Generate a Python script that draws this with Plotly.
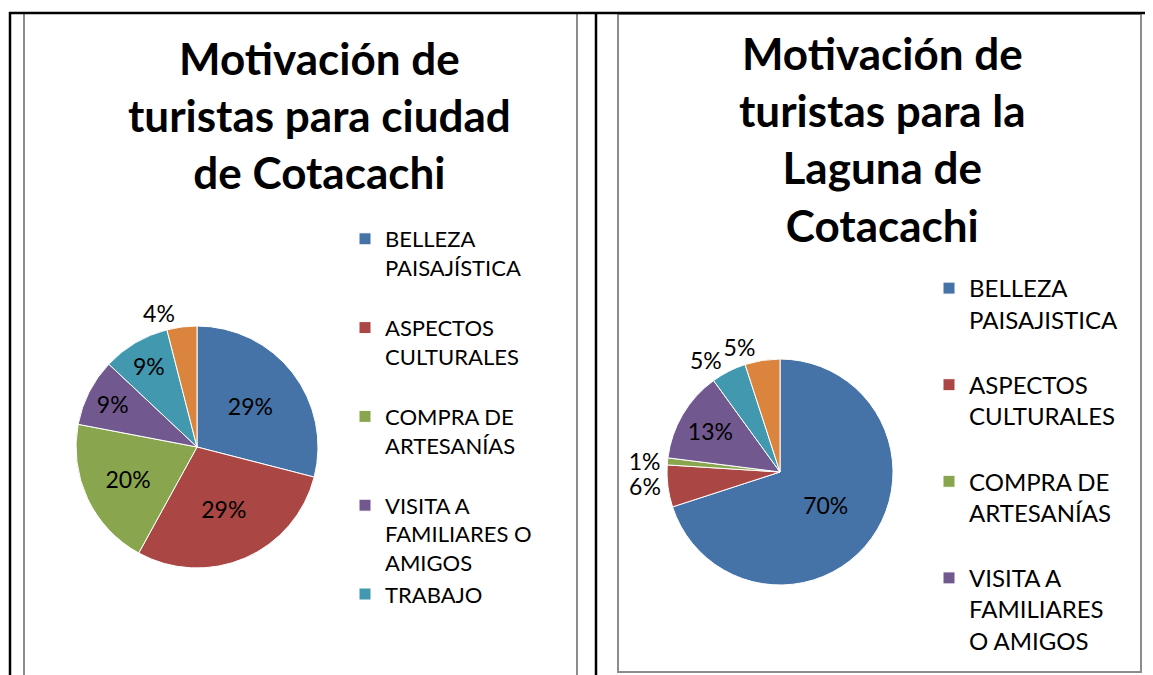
import plotly.graph_objects as go

W, H = 1153, 675
OFF = 8  # page body margin of the browser

# ---- data ----
categories_left = ["BELLEZA PAISAJÍSTICA", "ASPECTOS CULTURALES", "COMPRA DE ARTESANÍAS",
                   "VISITA A FAMILIARES O AMIGOS", "TRABAJO", "OTROS"]
values_left = [29, 29, 20, 9, 9, 4]

categories_right = ["BELLEZA PAISAJISTICA", "ASPECTOS CULTURALES", "COMPRA DE ARTESANÍAS",
                    "VISITA A FAMILIARES O AMIGOS", "TRABAJO", "OTROS"]
values_right = [70, 6, 1, 13, 5, 5]

title_left = "Motivación de<br>turistas para ciudad<br>de Cotacachi"
title_right = "Motivación de<br>turistas para la<br>Laguna de<br>Cotacachi"

colors = ["#4572A7", "#AA4643", "#89A54E", "#71588F", "#4198AF", "#DB843D"]

# legend text wrapping (display only)
wrap_left = {
    "BELLEZA PAISAJÍSTICA": "BELLEZA<br>PAISAJÍSTICA<br> ",
    "ASPECTOS CULTURALES": "ASPECTOS<br>CULTURALES<br> ",
    "COMPRA DE ARTESANÍAS": "COMPRA DE<br>ARTESANÍAS<br> ",
    "VISITA A FAMILIARES O AMIGOS": "VISITA A<br>FAMILIARES O<br>AMIGOS",
    "TRABAJO": "TRABAJO<br> <br> <br> ",
    "OTROS": "OTROS",
}
NB = "\u00a0"
wrap_right = {
    "BELLEZA PAISAJISTICA": "BELLEZA<br>PAISAJISTICA<br>" + NB,
    "ASPECTOS CULTURALES": "ASPECTOS<br>CULTURALES<br>" + NB,
    "COMPRA DE ARTESANÍAS": "COMPRA DE<br>ARTESANÍAS<br>" + NB,
    "VISITA A FAMILIARES O AMIGOS": "VISITA A<br>FAMILIARES<br>O AMIGOS<br>" + NB + "<br>" + NB,
    "TRABAJO": "TRABAJO<br>" + NB + "<br>" + NB,
    "OTROS": "OTROS" + NB,
}

FONT = "Lato"


def px(x):
    return (x - OFF) / W


def py(y):
    return 1 - (y - OFF) / H


fig = go.Figure()

left_domain = dict(x=[px(76), px(318)], y=[py(568), py(326)])
right_domain = dict(x=[px(667), px(893)], y=[py(585), py(359)])
pie_font = dict(family=FONT, size=23, color="black")

fig.add_trace(go.Pie(
    labels=[wrap_left[c] for c in categories_left],
    values=values_left,
    sort=False, direction="clockwise", rotation=0,
    marker=dict(colors=colors, line=dict(color="white", width=1)),
    texttemplate="%{percent:.0%}",
    textposition=["inside", "inside", "inside", "inside", "inside", "outside"],
    insidetextorientation="horizontal",
    textfont=pie_font,
    domain=left_domain,
    legend="legend",
    hoverinfo="label+percent",
))

right_labels = [wrap_right[c] for c in categories_right]
fig.add_trace(go.Pie(
    labels=right_labels,
    values=values_right,
    sort=False, direction="clockwise", rotation=0,
    marker=dict(colors=colors, line=dict(color="white", width=1)),
    texttemplate="%{percent:.0%}",
    textposition=["inside", "outside", "none", "inside", "none", "outside"],
    insidetextorientation="horizontal",
    textfont=pie_font,
    domain=right_domain,
    legend="legend2",
    hoverinfo="label+percent",
))
# second label layer for the small slices (same data, transparent fill)
fig.add_trace(go.Pie(
    labels=right_labels,
    values=values_right,
    sort=False, direction="clockwise", rotation=0,
    marker=dict(colors=["rgba(0,0,0,0)"] * len(values_right), line=dict(width=0)),
    texttemplate="%{percent:.0%}",
    textposition=["none", "none", "outside", "none", "outside", "none"],
    textfont=pie_font,
    domain=right_domain,
    showlegend=False,
    hoverinfo="skip",
))

gray = "#8C8C8C"
shapes = [
    dict(type="line", x0=px(24), x1=px(24), y0=py(14), y1=py(700), line=dict(color=gray, width=2)),
    dict(type="line", x0=px(577), x1=px(577), y0=py(14), y1=py(700), line=dict(color=gray, width=2)),
    dict(type="rect", x0=px(618), x1=px(1141), y0=py(672), y1=py(14), line=dict(color=gray, width=2)),
    dict(type="line", x0=px(9), x1=px(1170), y0=py(13), y1=py(13), line=dict(color="black", width=2.5)),
    dict(type="line", x0=px(10), x1=px(10), y0=py(12), y1=py(700), line=dict(color="black", width=2.5)),
    dict(type="line", x0=px(596), x1=px(596), y0=py(12), y1=py(700), line=dict(color="black", width=2.5)),
]
for s in shapes:
    s["xref"] = "paper"
    s["yref"] = "paper"

title_font = dict(family=FONT, size=44, color="black", weight="bold")
annotations = [
    dict(text=title_left, x=px(319), y=py(30), xanchor="center", yanchor="top",
         showarrow=False, font=title_font, xref="paper", yref="paper", align="center"),
    dict(text=title_right, x=px(882), y=py(25), xanchor="center", yanchor="top",
         showarrow=False, font=title_font, xref="paper", yref="paper", align="center"),
]

fig.update_layout(
    width=W, height=H,
    margin=dict(l=0, r=0, t=0, b=0, autoexpand=False),
    paper_bgcolor="white", plot_bgcolor="white",
    shapes=shapes,
    annotations=annotations,
    legend=dict(x=px(345), y=py(218), xanchor="left", yanchor="top",
                font=dict(family=FONT, size=22, color="black"),
                valign="top", bgcolor="rgba(0,0,0,0)", tracegroupgap=0),
    legend2=dict(x=px(929), y=py(266), xanchor="left", yanchor="top",
                 font=dict(family=FONT, size=24, color="black"),
                 valign="top", bgcolor="rgba(0,0,0,0)", tracegroupgap=0),
)

fig.write_html("out.html")
